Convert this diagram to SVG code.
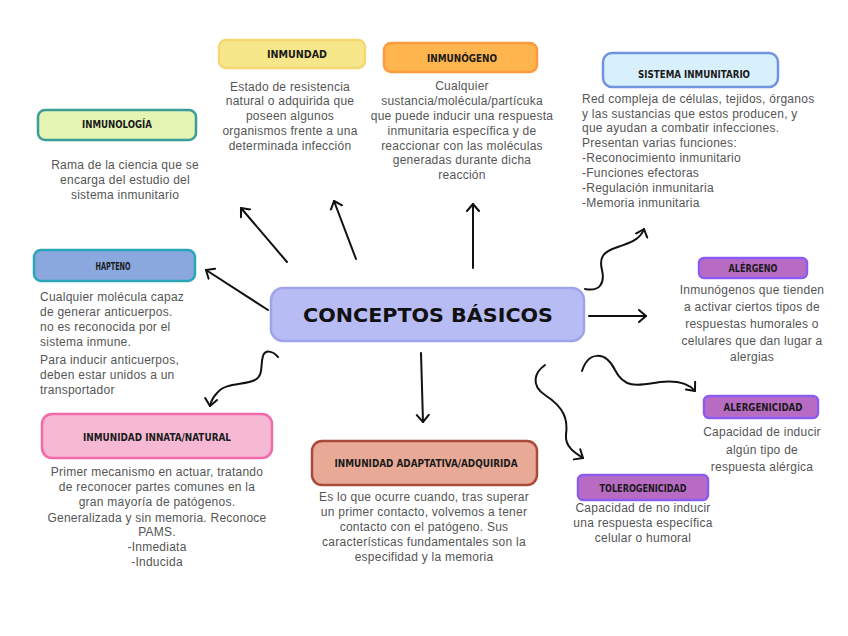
<svg xmlns="http://www.w3.org/2000/svg" width="848" height="636" viewBox="0 0 848 636">
<defs>
<marker id="arr" markerUnits="userSpaceOnUse" markerWidth="16" markerHeight="16" refX="8" refY="8" orient="auto">
<path d="M1,2 L8,8 L1,14" fill="none" stroke="#111" stroke-width="2" stroke-linecap="round" stroke-linejoin="round"/>
</marker>
<style>
.box{stroke-width:2.5}
.hd{font-family:"DejaVu Sans Condensed","DejaVu Sans","Liberation Sans",sans-serif;font-weight:bold;font-size:10px;fill:#1a1a1a;text-anchor:middle}
.ds{font-family:"Liberation Sans",Arial,sans-serif;font-size:12px;letter-spacing:0.25px;fill:#555}
.c{text-anchor:middle}
.cn{fill:none;stroke:#111;stroke-width:2;stroke-linecap:round;marker-end:url(#arr)}
</style>
</defs>
<rect width="848" height="636" fill="#fff"/>
<g id="connectors">
<path class="cn" d="M287,262 L241,208"/>
<path class="cn" d="M356,259 L334,201"/>
<path class="cn" d="M473,268 L473,204"/>
<path class="cn" d="M268,310 L206,270"/>
<path class="cn" d="M278,357 C272,350 265,350 263,356 C260,365 264,375 255,380 C245,385 225,383 218,392 C214,396 211,400 210,406"/>
<path class="cn" d="M421,353 L423,422"/>
<path class="cn" d="M589,316 L646,316"/>
<path class="cn" d="M585,289 C600,292 605,283 602,270 C599,258 603,252 615,248 C630,243 640,240 644,229"/>
<path class="cn" d="M545,365 C535,372 530,385 545,395 C565,408 568,420 566,435 C565,447 575,453 583,458"/>
<path class="cn" d="M582,371 C588,352 605,350 615,370 C625,390 640,385 660,382 C680,380 690,385 695,391"/>
</g>
<g id="central">
<rect class="box" x="271" y="288" width="313" height="53" rx="12" fill="#b8bcf5" stroke="#9ea3ea"/>
<text x="428" y="322" text-anchor="middle" font-family="'DejaVu Sans','Liberation Sans',sans-serif" font-weight="900" font-size="20" fill="#111" textLength="250" lengthAdjust="spacingAndGlyphs">CONCEPTOS BÁSICOS</text>
</g>
<g id="inmunologia">
<rect class="box" x="38" y="110" width="158" height="30" rx="7" fill="#e4f5b3" stroke="#3b9c9a"/>
<text class="hd" x="117" y="128" textLength="70" lengthAdjust="spacingAndGlyphs">INMUNOLOGÍA</text>
<text class="ds c" x="125" y="169">Rama de la ciencia que se</text>
<text class="ds c" x="125" y="184">encarga del estudio del</text>
<text class="ds c" x="125" y="199">sistema inmunitario</text>
</g>
<g id="inmunidad">
<rect class="box" x="219" y="40" width="146" height="28" rx="7" fill="#f6e78b" stroke="#f5d873"/>
<text class="hd" x="297" y="58" textLength="60" lengthAdjust="spacingAndGlyphs">INMUNDAD</text>
<text class="ds c" x="290" y="91">Estado de resistencia</text>
<text class="ds c" x="290" y="105">natural o adquirida que</text>
<text class="ds c" x="290" y="120">poseen algunos</text>
<text class="ds c" x="290" y="135">organismos frente a una</text>
<text class="ds c" x="290" y="150">determinada infección</text>
</g>
<g id="inmunogeno">
<rect class="box" x="384" y="43" width="153" height="29" rx="7" fill="#ffb54d" stroke="#ff9b3e"/>
<text class="hd" x="462" y="62" textLength="70" lengthAdjust="spacingAndGlyphs">INMUNÓGENO</text>
<text class="ds c" x="462" y="90">Cualquier</text>
<text class="ds c" x="462" y="105">sustancia/molécula/partícuka</text>
<text class="ds c" x="462" y="120">que puede inducir una respuesta</text>
<text class="ds c" x="462" y="135">inmunitaria específica y de</text>
<text class="ds c" x="462" y="150">reaccionar con las moléculas</text>
<text class="ds c" x="462" y="164">generadas durante dicha</text>
<text class="ds c" x="462" y="179">reacción</text>
</g>
<g id="sistema">
<rect class="box" x="603" y="53" width="175" height="34" rx="9" fill="#d8f0fb" stroke="#7293e0"/>
<text class="hd" x="694" y="78" textLength="112" lengthAdjust="spacingAndGlyphs">SISTEMA INMUNITARIO</text>
<text class="ds" x="582" y="103">Red compleja de células, tejidos, órganos</text>
<text class="ds" x="582" y="118">y las sustancias que estos producen, y</text>
<text class="ds" x="582" y="132">que ayudan a combatir infecciones.</text>
<text class="ds" x="582" y="147">Presentan varias funciones:</text>
<text class="ds" x="582" y="162">-Reconocimiento inmunitario</text>
<text class="ds" x="582" y="177">-Funciones efectoras</text>
<text class="ds" x="582" y="192">-Regulación inmunitaria</text>
<text class="ds" x="582" y="207">-Memoria inmunitaria</text>
</g>
<g id="hapteno">
<rect class="box" x="34" y="250" width="161" height="31" rx="7" fill="#8aa8dd" stroke="#2aa6b8"/>
<text class="hd" x="113" y="270" textLength="35" lengthAdjust="spacingAndGlyphs">HAPTENO</text>
<text class="ds" x="40" y="301">Cualquier molécula capaz</text>
<text class="ds" x="40" y="316">de generar anticuerpos.</text>
<text class="ds" x="40" y="331">no es reconocida por el</text>
<text class="ds" x="40" y="346">sistema inmune.</text>
<text class="ds" x="40" y="364">Para inducir anticuerpos,</text>
<text class="ds" x="40" y="379">deben estar unidos a un</text>
<text class="ds" x="40" y="394">transportador</text>
</g>
<g id="alergeno">
<rect class="box" x="699" y="258" width="108" height="20" rx="5" fill="#b86bc3" stroke="#8a5cf0"/>
<text class="hd" x="753" y="272" textLength="49" lengthAdjust="spacingAndGlyphs">ALÉRGENO</text>
<text class="ds c" x="752" y="294">Inmunógenos que tienden</text>
<text class="ds c" x="752" y="311">a activar ciertos tipos de</text>
<text class="ds c" x="752" y="328">respuestas humorales o</text>
<text class="ds c" x="752" y="345">celulares que dan lugar a</text>
<text class="ds c" x="752" y="361">alergias</text>
</g>
<g id="alergenicidad">
<rect class="box" x="704" y="396" width="114" height="22" rx="5" fill="#b86bc3" stroke="#8a5cf0"/>
<text class="hd" x="763" y="411" textLength="79" lengthAdjust="spacingAndGlyphs">ALERGENICIDAD</text>
<text class="ds c" x="762" y="436">Capacidad de inducir</text>
<text class="ds c" x="762" y="454">algún tipo de</text>
<text class="ds c" x="762" y="471">respuesta alérgica</text>
</g>
<g id="tolerogenicidad">
<rect class="box" x="578" y="475" width="130" height="25" rx="5" fill="#b86bc3" stroke="#8a5cf0"/>
<text class="hd" x="643" y="492" textLength="87" lengthAdjust="spacingAndGlyphs">TOLEROGENICIDAD</text>
<text class="ds c" x="643" y="512">Capacidad de no inducir</text>
<text class="ds c" x="643" y="527">una respuesta específica</text>
<text class="ds c" x="643" y="542">celular o humoral</text>
</g>
<g id="innata">
<rect class="box" x="42" y="414" width="230" height="44" rx="10" fill="#f7b8d3" stroke="#f26aa9"/>
<text class="hd" x="157" y="441" textLength="148" lengthAdjust="spacingAndGlyphs">INMUNIDAD INNATA/NATURAL</text>
<text class="ds c" x="157" y="476">Primer mecanismo en actuar, tratando</text>
<text class="ds c" x="157" y="491">de reconocer partes comunes en la</text>
<text class="ds c" x="157" y="506">gran mayoría de patógenos.</text>
<text class="ds c" x="157" y="522">Generalizada y sin memoria. Reconoce</text>
<text class="ds c" x="157" y="536">PAMS.</text>
<text class="ds c" x="157" y="551">-Inmediata</text>
<text class="ds c" x="157" y="566">-Inducida</text>
</g>
<g id="adaptativa">
<rect class="box" x="312" y="441" width="225" height="44" rx="10" fill="#e8aa96" stroke="#a84b3a"/>
<text class="hd" x="426" y="467" textLength="183" lengthAdjust="spacingAndGlyphs">INMUNIDAD ADAPTATIVA/ADQUIRIDA</text>
<text class="ds c" x="424" y="501">Es lo que ocurre cuando, tras superar</text>
<text class="ds c" x="424" y="516">un primer contacto, volvemos a tener</text>
<text class="ds c" x="424" y="531">contacto con el patógeno. Sus</text>
<text class="ds c" x="424" y="546">características fundamentales son la</text>
<text class="ds c" x="424" y="561">especifidad y la memoria</text>
</g>
</svg>
